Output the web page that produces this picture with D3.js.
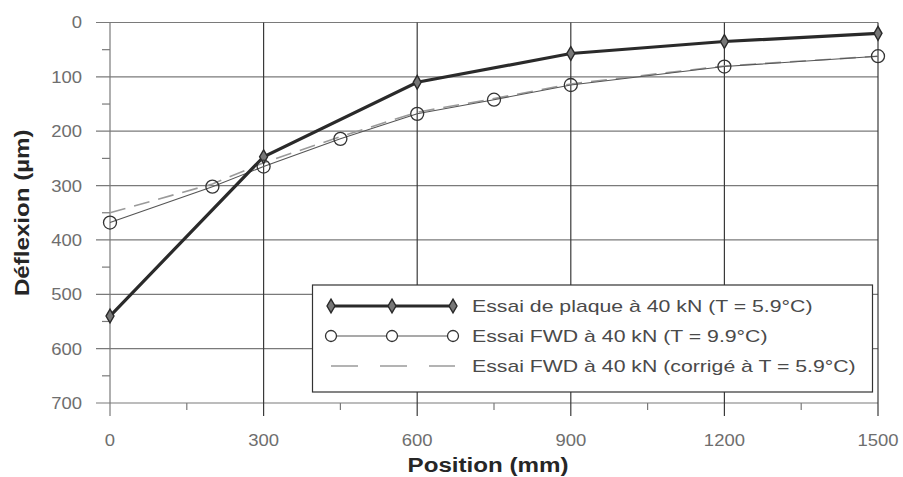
<!DOCTYPE html>
<html>
<head>
<meta charset="utf-8">
<script src="https://cdn.jsdelivr.net/npm/d3@7"></script>
<style>
  body { margin: 0; background: #fff; }
  svg { display: block; font-family: "Liberation Sans", Arial, sans-serif; }
</style>
</head>
<body>
<div id="chart"></div>
<script>
// Deflection basin: plate test vs FWD
const platePos = [0, 300, 600, 900, 1200, 1500];
const plateDefl = [540, 247, 110, 57, 35, 20];

const fwdPos = [0, 200, 300, 450, 600, 750, 900, 1200, 1500];
const fwdDefl = [368, 302, 265, 214, 168, 142, 115, 81, 62];
const corrDefl = [350, 297, 258, 210, 165, 140, 113, 80, 62];

const xTicks = [0, 300, 600, 900, 1200, 1500];
const xMinor = [150, 450, 750, 1050, 1350];
const yTicks = [0, 100, 200, 300, 400, 500, 600, 700];
const yMinor = [50, 150, 250, 350, 450, 550, 650];

const legendLabels = [
  "Essai de plaque à 40 kN (T = 5.9°C)",
  "Essai FWD à 40 kN (T = 9.9°C)",
  "Essai FWD à 40 kN (corrigé à T = 5.9°C)"
];

const W = 903, H = 477;
const x = d3.scaleLinear().domain([0, 1500]).range([110, 878]);
const y = d3.scaleLinear().domain([0, 700]).range([22.5, 403]);

const svg = d3.select("#chart").append("svg")
  .attr("width", W).attr("height", H);

// grid lines
svg.append("g").selectAll("line")
  .data(yTicks)
  .join("line")
  .attr("x1", 96).attr("x2", x(1500))
  .attr("y1", d => y(d)).attr("y2", d => y(d))
  .attr("stroke", "#7a7a7a").attr("stroke-width", 1.2);

svg.append("g").selectAll("line")
  .data(xTicks)
  .join("line")
  .attr("x1", d => x(d)).attr("x2", d => x(d))
  .attr("y1", y(0)).attr("y2", 416)
  .attr("stroke", d => d === 0 ? "#7a7a7a" : "#3a3a3a").attr("stroke-width", 1.2);

// minor ticks
svg.append("g").selectAll("line")
  .data(yMinor)
  .join("line")
  .attr("x1", 102).attr("x2", x(0))
  .attr("y1", d => y(d)).attr("y2", d => y(d))
  .attr("stroke", "#7a7a7a").attr("stroke-width", 1.2);

svg.append("g").selectAll("line")
  .data(xMinor)
  .join("line")
  .attr("x1", d => x(d)).attr("x2", d => x(d))
  .attr("y1", y(700)).attr("y2", 410)
  .attr("stroke", "#7a7a7a").attr("stroke-width", 1.2);

// tick labels (text slightly wide, like the source)
svg.append("g").selectAll("text")
  .data(yTicks)
  .join("text")
  .attr("transform", d => `translate(82,${y(d)}) scale(1.12,1)`)
  .attr("dy", "0.36em")
  .attr("text-anchor", "end")
  .attr("font-size", 16.5)
  .attr("fill", "#6e6e6e")
  .text(d => d);

svg.append("g").selectAll("text")
  .data(xTicks)
  .join("text")
  .attr("transform", d => `translate(${x(d)},446) scale(1.12,1)`)
  .attr("text-anchor", "middle")
  .attr("font-size", 16.5)
  .attr("fill", "#6e6e6e")
  .text(d => d);

// axis titles
svg.append("text")
  .attr("transform", "translate(488,472) scale(1.15,1)")
  .attr("text-anchor", "middle")
  .attr("font-size", 21)
  .attr("font-weight", "bold")
  .attr("fill", "#262626")
  .text("Position (mm)");

svg.append("text")
  .attr("transform", `translate(29,${(y(0) + y(700)) / 2}) rotate(-90) scale(1.15,1)`)
  .attr("text-anchor", "middle")
  .attr("font-size", 21)
  .attr("font-weight", "bold")
  .attr("fill", "#262626")
  .text("Déflexion (µm)");

// series
const line = d3.line().x(d => x(d[0])).y(d => y(d[1]));

svg.append("path")
  .datum(d3.zip(fwdPos, corrDefl))
  .attr("d", line)
  .attr("fill", "none")
  .attr("stroke", "#9a9a9a")
  .attr("stroke-width", 1.6)
  .attr("stroke-dasharray", "16,9");

svg.append("path")
  .datum(d3.zip(fwdPos, fwdDefl))
  .attr("d", line)
  .attr("fill", "none")
  .attr("stroke", "#555")
  .attr("stroke-width", 1.1);

svg.append("path")
  .datum(d3.zip(platePos, plateDefl))
  .attr("d", line)
  .attr("fill", "none")
  .attr("stroke", "#2a2a2a")
  .attr("stroke-width", 3.2);

const diamond = d3.symbol(d3.symbolDiamond, 55);

svg.append("g").selectAll("path")
  .data(d3.zip(platePos, plateDefl))
  .join("path")
  .attr("transform", d => `translate(${x(d[0])},${y(d[1])})`)
  .attr("d", diamond)
  .attr("fill", "#777")
  .attr("stroke", "#2a2a2a")
  .attr("stroke-width", 1.4);

svg.append("g").selectAll("circle")
  .data(d3.zip(fwdPos, fwdDefl))
  .join("circle")
  .attr("cx", d => x(d[0])).attr("cy", d => y(d[1]))
  .attr("r", 6.5)
  .attr("fill", "none")
  .attr("stroke", "#333")
  .attr("stroke-width", 1.3);

// legend
const lg = svg.append("g");
lg.append("rect")
  .attr("x", 312.5).attr("y", 285)
  .attr("width", 560).attr("height", 107)
  .attr("fill", "#fff")
  .attr("stroke", "#333").attr("stroke-width", 1.2);

const rowY = [306, 336, 366];
const lx = [331, 392, 453];

lg.append("line").attr("x1", lx[0]).attr("x2", lx[2])
  .attr("y1", rowY[0]).attr("y2", rowY[0])
  .attr("stroke", "#2a2a2a").attr("stroke-width", 3.2);
lg.selectAll(".ld").data(lx).join("path")
  .attr("class", "ld")
  .attr("transform", d => `translate(${d},${rowY[0]})`)
  .attr("d", diamond)
  .attr("fill", "#777").attr("stroke", "#2a2a2a").attr("stroke-width", 1.4);

lg.append("line").attr("x1", lx[0]).attr("x2", lx[2])
  .attr("y1", rowY[1]).attr("y2", rowY[1])
  .attr("stroke", "#555").attr("stroke-width", 1.1);
lg.selectAll(".lc").data(lx).join("circle")
  .attr("class", "lc")
  .attr("cx", d => d).attr("cy", rowY[1]).attr("r", 5.5)
  .attr("fill", "#fff").attr("stroke", "#333").attr("stroke-width", 1.3);

lg.append("line").attr("x1", lx[0]).attr("x2", lx[2] + 2)
  .attr("y1", rowY[2]).attr("y2", rowY[2])
  .attr("stroke", "#9a9a9a").attr("stroke-width", 1.6)
  .attr("stroke-dasharray", "27,22");

lg.selectAll("text").data(legendLabels).join("text")
  .attr("transform", (d, i) => `translate(472,${rowY[i]}) scale(1.25,1)`)
  .attr("dy", "0.36em")
  .attr("font-size", 17)
  .attr("fill", "#4a4a4a")
  .text(d => d);
</script>
</body>
</html>
